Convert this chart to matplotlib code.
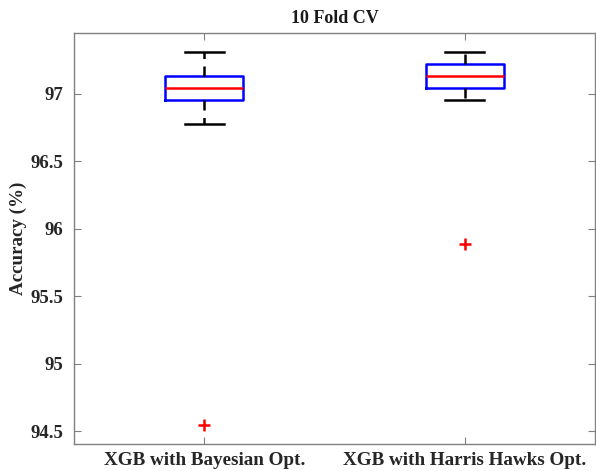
import matplotlib
matplotlib.use("Agg")
import matplotlib.pyplot as plt

# Box statistics for the 10-fold cross-validation accuracy (%)
models = ["XGB with Bayesian Opt.", "XGB with Harris Hawks Opt."]
whisker_low = [96.777, 96.955]
q1 = [96.955, 97.047]
median = [97.045, 97.136]
q3 = [97.136, 97.222]
whisker_high = [97.312, 97.312]
outliers = [[94.545], [95.886]]

plt.rcParams["font.family"] = ["Liberation Serif", "DejaVu Serif"]
plt.rcParams["font.weight"] = "bold"

fig = plt.figure(figsize=(5.96, 4.71), dpi=100)
ax = fig.add_axes([74 / 596, 1 - 444 / 471, (595 - 74) / 596, (444 - 33) / 471])

stats = []
for i in range(len(models)):
    stats.append(dict(med=median[i], q1=q1[i], q3=q3[i],
                      whislo=whisker_low[i], whishi=whisker_high[i],
                      fliers=outliers[i], label=models[i]))

ax.bxp(stats, positions=[1, 2], widths=0.30, showfliers=True,
       boxprops=dict(color="blue", linewidth=1.8),
       medianprops=dict(color="red", linewidth=1.8),
       whiskerprops=dict(color="black", linewidth=1.8, linestyle=(0, (4, 3))),
       capprops=dict(color="black", linewidth=1.8),
       capwidths=0.15,
       flierprops=dict(marker="+", markeredgecolor="red", markersize=8,
                       markeredgewidth=1.8, linestyle="none"))

ax.set_xlim(0.5, 2.5)
ax.set_ylim(94.404, 97.452)
ax.set_yticks([94.5, 95, 95.5, 96, 96.5, 97])
ax.set_yticklabels(["94.5", "95", "95.5", "96", "96.5", "97"])
ax.set_xticks([1, 2])
ax.set_xticklabels(models)

for s in ax.spines.values():
    s.set_color("#808080")
    s.set_linewidth(1.0)
ax.tick_params(direction="in", top=True, right=True, length=5,
               color="#808080", labelcolor="#262626")
ax.tick_params(axis="y", labelsize=13.5, pad=8)
ax.tick_params(axis="x", labelsize=13.8, pad=6)
for lab in ax.get_xticklabels() + ax.get_yticklabels():
    lab.set_fontweight("bold")

ax.set_ylabel("Accuracy (%)", fontsize=13.7, fontweight="bold", color="#262626", labelpad=2)
ax.set_title("10 Fold CV", fontsize=13, fontweight="bold", color="#1a1a1a", pad=7)

fig.savefig("out.png", dpi=100)
